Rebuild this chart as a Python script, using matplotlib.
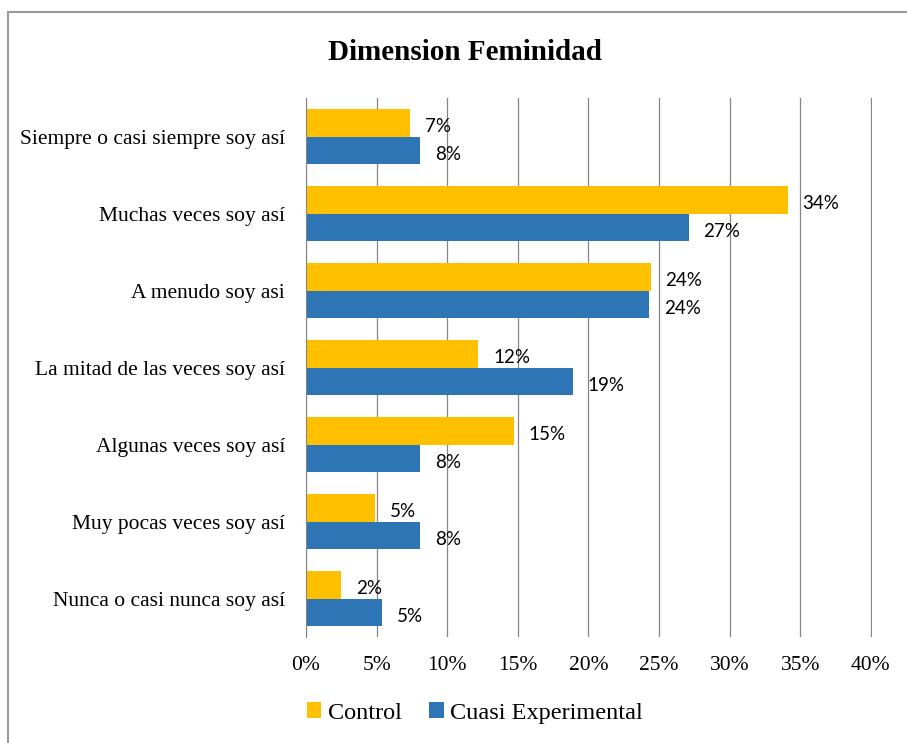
import matplotlib.pyplot as plt
from matplotlib.lines import Line2D
import numpy as np

categories = ["Siempre o casi siempre soy así", "Muchas veces soy así", "A menudo soy asi",
              "La mitad de las veces soy así", "Algunas veces soy así",
              "Muy pocas veces soy así", "Nunca o casi nunca soy así"]
control = [7.35, 34.1, 24.4, 12.2, 14.7, 4.9, 2.5]
cuasi = [8.1, 27.1, 24.3, 18.9, 8.1, 8.1, 5.4]
control_lbl = ["7%", "34%", "24%", "12%", "15%", "5%", "2%"]
cuasi_lbl = ["8%", "27%", "24%", "19%", "8%", "8%", "5%"]
xticks = [0, 5, 10, 15, 20, 25, 30, 35, 40]

yellow = "#FFC000"
blue = "#2E75B6"
serif = "Liberation Serif"

fig = plt.figure(figsize=(9.07, 7.43), dpi=100)
ax = fig.add_axes([306/907, 1-637/743, (872-306)/907, (637-98)/743])

y = np.arange(len(categories))
h = 0.355
ax.barh(y - h/2, control, height=h, color=yellow, label="Control")
ax.barh(y + h/2, cuasi, height=h, color=blue, label="Cuasi Experimental")

# data labels
for i in range(len(categories)):
    ax.text(control[i] + 1.05, y[i] - h/2 + 0.05, control_lbl[i], va="center", ha="left",
            fontsize=13.5, family="Lato")
    ax.text(cuasi[i] + 1.05, y[i] + h/2 + 0.05, cuasi_lbl[i], va="center", ha="left",
            fontsize=13.5, family="Lato")

ax.set_ylim(len(categories) - 0.5, -0.5)
ax.set_xlim(0, 40.08)
ax.set_yticks(y)
ax.set_yticklabels(categories, family=serif, fontsize=15.5)
ax.set_xticks(xticks)
ax.set_xticklabels([f"{t}%" for t in xticks], family=serif, fontsize=15.5)
ax.tick_params(axis="y", length=0, pad=15)
ax.tick_params(axis="x", length=0, pad=14)
ax.grid(axis="x", color="#868686", linewidth=0.9)
ax.set_axisbelow(True)
for s in ["top", "right", "bottom"]:
    ax.spines[s].set_visible(False)
ax.spines["left"].set_color("#868686")

fig.text(465/907, 1-52/743, "Dimension Feminidad", ha="center", va="center",
         family=serif, fontsize=21, weight="bold")

leg = fig.legend(loc="center left", bbox_to_anchor=(285/907, 1-713/743), ncol=2, frameon=False,
                 prop={"family": serif, "size": 17.5}, handlelength=0.6, handleheight=0.6,
                 handletextpad=0.25, columnspacing=1.15)

# outer frame: only top and left edges show
fig.lines.append(Line2D([8/907, 8/907], [0, 1-12/743], transform=fig.transFigure,
                        color="#999999", linewidth=1.5))
fig.lines.append(Line2D([8/907, 1], [1-12/743, 1-12/743], transform=fig.transFigure,
                        color="#999999", linewidth=1.5))

fig.savefig("out.png", dpi=100)
